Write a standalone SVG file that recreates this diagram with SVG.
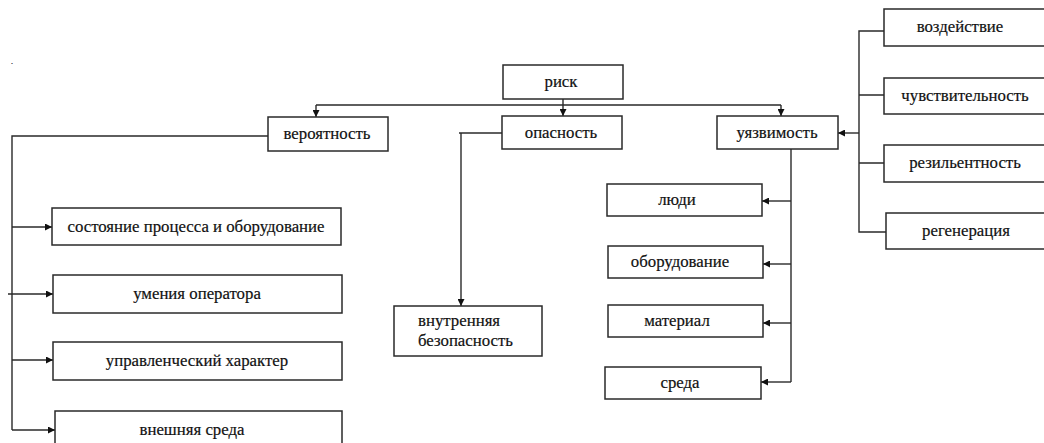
<svg xmlns="http://www.w3.org/2000/svg" width="1044" height="443" viewBox="0 0 1044 443">
<style>
.box{fill:#fff;stroke:#2a2a2a;stroke-width:1.5}
.t{font-family:'Liberation Serif','Times New Roman',serif;font-size:16.8px;fill:#111;stroke:#111;stroke-width:0.2;text-anchor:middle}
.tl{font-family:'Liberation Serif','Times New Roman',serif;font-size:16.8px;fill:#111;stroke:#111;stroke-width:0.2}
.c{fill:none;stroke:#2a2a2a;stroke-width:1.4}
</style>
<defs>
<marker id="ah" viewBox="0 0 8 8" refX="8" refY="4" markerWidth="7" markerHeight="7" markerUnits="userSpaceOnUse" orient="auto">
<path d="M0,0 L8,4 L0,8 Z" fill="#111"/>
</marker>
</defs>
<rect width="1044" height="443" fill="#fff"/>
<text x="11" y="64" class="tl" style="font-size:8px">.</text>
<g id="connectors">
<path class="c" d="M563,99 V105 M316,105 H781"/>
<path class="c" d="M316,105 V117" marker-end="url(#ah)"/>
<path class="c" d="M563,105 V116" marker-end="url(#ah)"/>
<path class="c" d="M781,105 V116" marker-end="url(#ah)"/>
<path class="c" d="M268,136 H12 V430"/>
<path class="c" d="M12,227 H52" marker-end="url(#ah)"/>
<path class="c" d="M8,294 H53" marker-end="url(#ah)"/>
<path class="c" d="M12,360 H53" marker-end="url(#ah)"/>
<path class="c" d="M12,430 H55" marker-end="url(#ah)"/>
<path class="c" d="M502,133 H459"/>
<path class="c" d="M461,133 V306" marker-end="url(#ah)"/>
<path class="c" d="M791,149 V382"/>
<path class="c" d="M791,201 H762" marker-end="url(#ah)"/>
<path class="c" d="M791,264 H763" marker-end="url(#ah)"/>
<path class="c" d="M791,323 H763" marker-end="url(#ah)"/>
<path class="c" d="M791,382 H761" marker-end="url(#ah)"/>
<path class="c" d="M859,133 H838" marker-end="url(#ah)"/>
<path class="c" d="M884,31 H859 V232 H886 M859,95 H884 M859,163 H884"/>
</g>
<g id="risk"><rect class="box" x="503" y="65" width="120" height="34"/><text class="t" x="561" y="87">риск</text></g>
<g id="veroyatnost"><rect class="box" x="268" y="117" width="120" height="34"/><text class="t" x="327" y="139">вероятность</text></g>
<g id="opasnost"><rect class="box" x="502" y="116" width="120" height="33"/><text class="t" x="561" y="138">опасность</text></g>
<g id="uyazvimost"><rect class="box" x="717" y="116" width="121" height="33"/><text class="t" x="777" y="138">уязвимость</text></g>
<g id="vozdeistvie"><rect class="box" x="884" y="9" width="164" height="37"/><text class="t" x="960" y="32">воздействие</text></g>
<g id="chuvstvitelnost"><rect class="box" x="884" y="78" width="164" height="36"/><text class="t" x="965" y="101">чувствительность</text></g>
<g id="rezilentnost"><rect class="box" x="884" y="145" width="164" height="37"/><text class="t" x="965" y="168">резильентность</text></g>
<g id="regeneratsiya"><rect class="box" x="886" y="213" width="162" height="36"/><text class="t" x="966" y="236">регенерация</text></g>
<g id="sostoyanie"><rect class="box" x="52" y="208" width="289" height="37"/><text class="t" x="196" y="232">состояние процесса и оборудование</text></g>
<g id="umeniya"><rect class="box" x="53" y="275" width="289" height="38"/><text class="t" x="197" y="299">умения оператора</text></g>
<g id="upravlencheskiy"><rect class="box" x="53" y="342" width="289" height="38"/><text class="t" x="197" y="366">управленческий характер</text></g>
<g id="vneshnyaya"><rect class="box" x="55" y="411" width="287" height="40"/><text class="t" x="192" y="435">внешняя среда</text></g>
<g id="vnutrennyaya"><rect class="box" x="394" y="306" width="148" height="50"/><text class="tl" x="418" y="326">внутренняя</text><text class="tl" x="418" y="346">безопасность</text></g>
<g id="lyudi"><rect class="box" x="607" y="184" width="155" height="32"/><text class="t" x="677" y="205">люди</text></g>
<g id="oborudovanie"><rect class="box" x="608" y="246" width="155" height="32"/><text class="t" x="680" y="267">оборудование</text></g>
<g id="material"><rect class="box" x="608" y="305" width="155" height="32"/><text class="t" x="677" y="326">материал</text></g>
<g id="sreda"><rect class="box" x="605" y="367" width="156" height="32"/><text class="t" x="680" y="388">среда</text></g>
</svg>
